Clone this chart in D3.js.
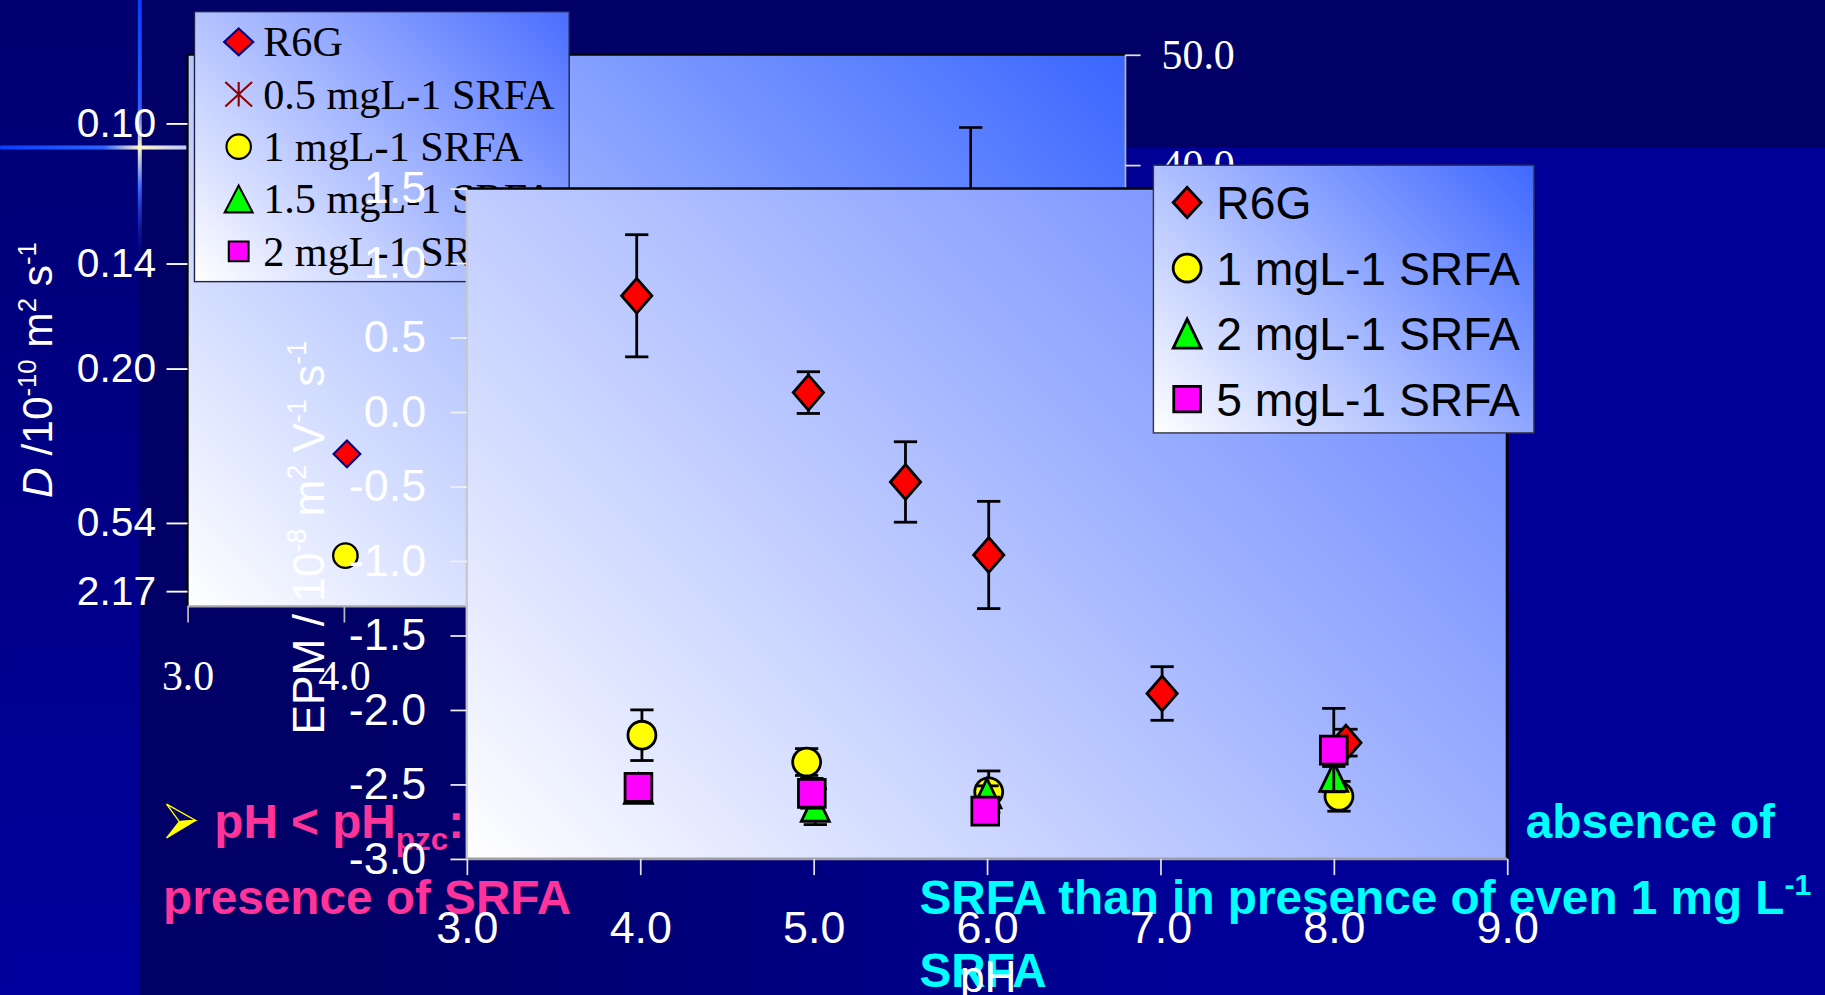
<!DOCTYPE html>
<html>
<head>
<meta charset="utf-8">
<script src="https://cdn.jsdelivr.net/npm/d3@7"></script>
<style>
  html, body { margin: 0; padding: 0; background: #000066; overflow: hidden; }
  svg { display: block; }
</style>
</head>
<body>
<svg id="slide" width="1825" height="995" viewBox="0 0 1568 855"></svg>
<script>
// ---------------- data ----------------
// Front chart: electrophoretic mobility (EPM) against pH
const phTicks = [3, 4, 5, 6, 7, 8, 9];
const epmTicks = [-3, -2.5, -2, -1.5, -1, -0.5, 0, 0.5, 1, 1.5];

const r6gPH  = [3.98, 4.97, 5.53, 6.01, 7.01, 8.07];
const r6gEPM = [0.78, 0.13, -0.47, -0.96, -1.89, -2.22];
const r6gErr = [0.41, 0.14, 0.27, 0.36, 0.18, 0.09];

const srfa1PH  = [4.01, 4.96, 6.01, 8.03];
const srfa1EPM = [-2.17, -2.35, -2.55, -2.58];
const srfa1Err = [0.17, 0.09, 0.14, 0.10];

const srfa2PH  = [3.99, 5.01, 6.00, 8.00];
const srfa2EPM = [-2.53, -2.65, -2.56, -2.45];
const srfa2Err = [0.06, 0.12, 0.05, 0.07];

const srfa5PH  = [3.99, 4.99, 5.99, 8.00];
const srfa5EPM = [-2.52, -2.56, -2.68, -2.27];
const srfa5Err = [0.08, 0.10, 0.07, 0.28];

const frontLegendLabels = ["R6G", "1 mgL-1 SRFA", "2 mgL-1 SRFA", "5 mgL-1 SRFA"];

// Back chart: diffusion coefficient D (reciprocal axis) against pH
const dTicks = [0.10, 0.14, 0.20, 0.54, 2.17];
const dTickLabels = ["0.10", "0.14", "0.20", "0.54", "2.17"];
const rightTicks = [0, 10, 20, 30, 40, 50];

const backR6GPH = [4.02];
const backR6GD  = [0.307];
const backSrfa1PH = [4.01];
const backSrfa1D  = [0.845];

const backRightPH  = [8.01];
const backRightVal = [36.0];
const backRightErr = [7.4];

const backLegendLabels = ["R6G", "0.5 mgL-1 SRFA", "1 mgL-1 SRFA", "1.5 mgL-1 SRFA", "2 mgL-1 SRFA"];

// ---------------- layout ----------------
const SANS = "'Liberation Sans', Arial, Helvetica, sans-serif";
const SERIF = "'Liberation Serif', 'Times New Roman', serif";

const back = { left: 161, right: 967, top: 47, bottom: 521 };
const front = { left: 401, right: 1295, top: 162, bottom: 738 };
const backLegendBox = { x: 167, y: 10, w: 322, h: 232 };
const frontLegendBox = { x: 991, y: 142, w: 327, h: 230 };

const svg = d3.select("#slide");
const defs = svg.append("defs");

// diagonal white -> blue fill, running from bottom-left to top-right corner
function diagGradient(id, x, y, w, h, endColor) {
  const s = (w + h) / 2;
  const g = defs.append("linearGradient").attr("id", id)
    .attr("gradientUnits", "userSpaceOnUse")
    .attr("x1", x).attr("y1", y + h)
    .attr("x2", x + s).attr("y2", y + h - s);
  g.append("stop").attr("offset", 0).attr("stop-color", "#ffffff");
  g.append("stop").attr("offset", 1).attr("stop-color", endColor);
}

function linGradient(id, x1, y1, x2, y2, stops) {
  const g = defs.append("linearGradient").attr("id", id)
    .attr("gradientUnits", "userSpaceOnUse")
    .attr("x1", x1).attr("y1", y1).attr("x2", x2).attr("y2", y2);
  stops.forEach(s => g.append("stop").attr("offset", s[0]).attr("stop-color", s[1]).attr("stop-opacity", s[2] == null ? 1 : s[2]));
}

diagGradient("backPlotFill", back.left, back.top, back.right - back.left, back.bottom - back.top, "#3a66ff");
diagGradient("frontPlotFill", front.left, front.top, front.right - front.left, front.bottom - front.top, "#5f7eff");
diagGradient("backLegendFill", backLegendBox.x, backLegendBox.y, backLegendBox.w, backLegendBox.h, "#4a6eff");
diagGradient("frontLegendFill", frontLegendBox.x, frontLegendBox.y, frontLegendBox.w, frontLegendBox.h, "#3f68ff");

linGradient("stripFill", 0, 0, 0, 855, [[0, "#000070"], [1, "#00009e"]]);
linGradient("lowerFill", 300, 0, 1050, 0, [[0, "#000066"], [1, "#000099"]]);
linGradient("glowH", 0, 0, 162, 0, [[0, "#0a3cff"], [0.55, "#2f62ff"], [0.74, "#fff6c8"], [1, "#b8c6ff"]]);
linGradient("glowV", 0, 0, 0, 230, [[0, "#0a3cff"], [0.4, "#2d5cff"], [0.55, "#fff6c8"], [0.7, "#3a66ff"], [1, "#000099", 0]]);

// ---------------- slide background ----------------
svg.append("rect").attr("width", 1568).attr("height", 855).attr("fill", "#000066");
svg.append("rect").attr("x", 120).attr("y", 127).attr("width", 1448).attr("height", 728).attr("fill", "url(#lowerFill)");
svg.append("rect").attr("x", 0).attr("y", 0).attr("width", 120).attr("height", 855).attr("fill", "url(#stripFill)");
svg.append("rect").attr("x", 0).attr("y", 125).attr("width", 162).attr("height", 3.5).attr("fill", "url(#glowH)");
svg.append("rect").attr("x", 118.3).attr("y", 0).attr("width", 3.4).attr("height", 230).attr("fill", "url(#glowV)");

// ---------------- marker shapes ----------------
function markerPath(kind, hw, hh) {
  const p = d3.path();
  if (kind === "diamond") {
    p.moveTo(0, -hh); p.lineTo(hw, 0); p.lineTo(0, hh); p.lineTo(-hw, 0); p.closePath();
  } else if (kind === "circle") {
    p.moveTo(hw, 0); p.arc(0, 0, hw, 0, 2 * Math.PI); p.closePath();
  } else if (kind === "triangle") {
    p.moveTo(0, -hh); p.lineTo(hw, hh); p.lineTo(-hw, hh); p.closePath();
  } else if (kind === "square") {
    p.rect(-hw, -hh, 2 * hw, 2 * hh);
  } else if (kind === "asterisk") {
    p.moveTo(0, -hh); p.lineTo(0, hh);
    p.moveTo(-hw, -hh); p.lineTo(hw, hh);
    p.moveTo(-hw, hh); p.lineTo(hw, -hh);
  }
  return p.toString();
}

function styleAxisText(g, family, size) {
  g.select(".domain").remove();
  g.selectAll(".tick text").attr("fill", "#ffffff").attr("font-family", family).attr("font-size", size);
}

// ================= BACK CHART =================
const xB = d3.scaleLinear().domain([3, 9]).range([back.left, back.right]);
const yB = d3.scaleLinear().domain([0.15, 11.4]).range([back.bottom, back.top]);   // 1/D
const yB2 = d3.scaleLinear().domain([0, 50]).range([back.bottom, back.top]);

const backG = svg.append("g");
backG.append("rect")
  .attr("x", back.left).attr("y", back.top)
  .attr("width", back.right - back.left).attr("height", back.bottom - back.top)
  .attr("fill", "url(#backPlotFill)");

// error bar drawn against the right-hand axis
const backErrG = backG.append("g").attr("stroke", "#000").attr("stroke-width", 2.2);
backRightPH.forEach((ph, i) => {
  const x = xB(ph);
  const yHi = yB2(backRightVal[i] + backRightErr[i]);
  const yLo = yB2(backRightVal[i] - backRightErr[i]);
  backErrG.append("line").attr("x1", x).attr("x2", x).attr("y1", yHi).attr("y2", yLo);
  backErrG.append("line").attr("x1", x - 10).attr("x2", x + 10).attr("y1", yHi).attr("y2", yHi);
  backErrG.append("line").attr("x1", x - 10).attr("x2", x + 10).attr("y1", yLo).attr("y2", yLo);
  backG.append("path").attr("d", markerPath("diamond", 11, 11))
    .attr("transform", `translate(${x},${yB2(backRightVal[i])})`)
    .attr("fill", "#ff0000").attr("stroke", "#000080").attr("stroke-width", 1.5);
});

backR6GPH.forEach((ph, i) => {
  backG.append("path").attr("d", markerPath("diamond", 11.5, 11.5))
    .attr("transform", `translate(${xB(ph)},${yB(1 / backR6GD[i])})`)
    .attr("fill", "#ff0000").attr("stroke", "#000080").attr("stroke-width", 1.8);
});
backSrfa1PH.forEach((ph, i) => {
  backG.append("path").attr("d", markerPath("circle", 10.5, 10.5))
    .attr("transform", `translate(${xB(ph)},${yB(1 / backSrfa1D[i])})`)
    .attr("fill", "#ffff00").attr("stroke", "#000000").attr("stroke-width", 2);
});

// frame of the back plot
backG.append("line").attr("x1", back.left).attr("x2", back.right).attr("y1", back.top).attr("y2", back.top).attr("stroke", "#000").attr("stroke-width", 2);
backG.append("line").attr("x1", back.left).attr("x2", back.left).attr("y1", back.top).attr("y2", back.bottom).attr("stroke", "#000").attr("stroke-width", 2);
backG.append("line").attr("x1", back.left).attr("x2", back.right).attr("y1", back.bottom).attr("y2", back.bottom).attr("stroke", "#a8a8a8").attr("stroke-width", 2);
backG.append("line").attr("x1", back.right).attr("x2", back.right).attr("y1", back.top).attr("y2", back.bottom).attr("stroke", "#b0b0b0").attr("stroke-width", 1.5);

const backLeftAxis = backG.append("g").attr("transform", `translate(${back.left},0)`)
  .call(d3.axisLeft(yB).tickValues(dTicks.map(d => 1 / d))
    .tickFormat((d, i) => dTickLabels[i]).tickSize(18).tickPadding(9));
styleAxisText(backLeftAxis, SANS, 35);
backLeftAxis.selectAll(".tick line").attr("stroke", "#ffffff").attr("stroke-width", 1.6);

const backBottomAxis = backG.append("g").attr("transform", `translate(0,${back.bottom})`)
  .call(d3.axisBottom(xB).tickValues(phTicks).tickFormat(d => d.toFixed(1)).tickSize(14).tickPadding(32));
styleAxisText(backBottomAxis, SERIF, 36);
backBottomAxis.selectAll(".tick line").attr("stroke", "#b8b8b8").attr("stroke-width", 1.5);

const backRightAxis = backG.append("g").attr("transform", `translate(${back.right},0)`)
  .call(d3.axisRight(yB2).tickValues(rightTicks).tickFormat(d => d.toFixed(1)).tickSize(13).tickPadding(18));
styleAxisText(backRightAxis, SERIF, 36);
backRightAxis.selectAll(".tick line").attr("stroke", "#e0e0e0").attr("stroke-width", 1.5);

// D axis title
const dTitle = backG.append("text")
  .attr("transform", "translate(45,318) rotate(-90)")
  .attr("text-anchor", "middle").attr("fill", "#ffffff")
  .attr("font-family", SANS).attr("font-size", 36.5);
dTitle.append("tspan").attr("font-style", "italic").text("D");
dTitle.append("tspan").text(" /10");
dTitle.append("tspan").attr("font-size", 22).attr("dy", -14).text("-10");
dTitle.append("tspan").attr("dy", 14).text(" m");
dTitle.append("tspan").attr("font-size", 22).attr("dy", -14).text("2");
dTitle.append("tspan").attr("dy", 14).text(" s");
dTitle.append("tspan").attr("font-size", 22).attr("dy", -14).text("-1");

// back legend
const backLegendSymbols = [
  { kind: "diamond", fill: "#ff0000", stroke: "#000080", hw: 12.5, hh: 11.5 },
  { kind: "asterisk", fill: "none", stroke: "#8b0000", hw: 11.5, hh: 10.5 },
  { kind: "circle", fill: "#ffff00", stroke: "#000000", hw: 10.5, hh: 10.5 },
  { kind: "triangle", fill: "#00ff00", stroke: "#000000", hw: 12, hh: 11.5 },
  { kind: "square", fill: "#ff00ff", stroke: "#000000", hw: 8.5, hh: 8.5 }
];
const bl = svg.append("g");
bl.append("rect").attr("x", backLegendBox.x).attr("y", backLegendBox.y)
  .attr("width", backLegendBox.w).attr("height", backLegendBox.h)
  .attr("fill", "url(#backLegendFill)").attr("stroke", "#222244").attr("stroke-width", 1.2);
const blRow = d3.scalePoint().domain(backLegendLabels).range([36, 216]);
backLegendLabels.forEach((lab, i) => {
  const s = backLegendSymbols[i];
  bl.append("path").attr("d", markerPath(s.kind, s.hw, s.hh))
    .attr("transform", `translate(205,${blRow(lab)})`)
    .attr("fill", s.fill).attr("stroke", s.stroke).attr("stroke-width", s.kind === "asterisk" ? 1.8 : 1.8);
  bl.append("text").attr("x", 226).attr("y", blRow(lab)).attr("dy", "0.34em")
    .attr("font-family", SERIF).attr("font-size", 36.3).attr("fill", "#000")
    .text(lab);
});

// ================= SLIDE TEXT (behind front chart) =================
const txt = svg.append("g").attr("font-family", SANS).attr("font-weight", "bold").attr("font-size", 41);

// yellow arrowhead bullet
const bullet = txt.append("g").attr("transform", "translate(143,691)");
bullet.append("path").attr("d", "M0,0 L25,14 L11,15 Z").attr("fill", "#000066").attr("stroke", "#ffff00").attr("stroke-width", 1.2);
bullet.append("path").attr("d", "M11,15 L25,14 L0,29 Z").attr("fill", "#ffff00").attr("stroke", "#ffff00").attr("stroke-width", 1);

const pink1 = txt.append("text").attr("x", 184).attr("y", 720).attr("fill", "#ff3399");
pink1.append("tspan").text("pH < pH");
pink1.append("tspan").attr("font-size", 27).attr("dy", 10).text("pzc");
pink1.append("tspan").attr("dy", -10).text(":");
txt.append("text").attr("x", 140).attr("y", 785).attr("fill", "#ff3399").text("presence of SRFA");

txt.append("text").attr("x", 1311).attr("y", 720).attr("fill", "#00ffff").text("absence of");
const cyan2 = txt.append("text").attr("x", 790).attr("y", 785).attr("fill", "#00ffff");
cyan2.append("tspan").text("SRFA than in presence of even 1 mg L");
cyan2.append("tspan").attr("font-size", 26).attr("dy", -16).text("-1");
txt.append("text").attr("x", 790).attr("y", 848).attr("fill", "#00ffff").text("SRFA");

// ================= FRONT CHART =================
const xF = d3.scaleLinear().domain([3, 9]).range([front.left, front.right]);
const yF = d3.scaleLinear().domain([-3, 1.5]).range([front.bottom, front.top]);

const frontG = svg.append("g");
frontG.append("rect")
  .attr("x", front.left).attr("y", front.top)
  .attr("width", front.right - front.left).attr("height", front.bottom - front.top)
  .attr("fill", "url(#frontPlotFill)");

const frontSeries = [
  { label: frontLegendLabels[0], ph: r6gPH, v: r6gEPM, e: r6gErr, kind: "diamond", fill: "#ff0000", hw: 13, hh: 15 },
  { label: frontLegendLabels[1], ph: srfa1PH, v: srfa1EPM, e: srfa1Err, kind: "circle", fill: "#ffff00", hw: 12, hh: 12 },
  { label: frontLegendLabels[2], ph: srfa2PH, v: srfa2EPM, e: srfa2Err, kind: "triangle", fill: "#00ff00", hw: 12, hh: 12.5 },
  { label: frontLegendLabels[3], ph: srfa5PH, v: srfa5EPM, e: srfa5Err, kind: "square", fill: "#ff00ff", hw: 11.5, hh: 12 }
];

frontSeries.forEach(s => {
  const g = frontG.append("g");
  const pts = s.ph.map((ph, i) => ({ ph, v: s.v[i], e: s.e[i] }));
  const eb = g.append("g").attr("stroke", "#000").attr("stroke-width", 2.4);
  pts.forEach(p => {
    const x = xF(p.ph), yHi = yF(p.v + p.e), yLo = yF(p.v - p.e);
    eb.append("line").attr("x1", x).attr("x2", x).attr("y1", yHi).attr("y2", yLo);
    eb.append("line").attr("x1", x - 10).attr("x2", x + 10).attr("y1", yHi).attr("y2", yHi);
    eb.append("line").attr("x1", x - 10).attr("x2", x + 10).attr("y1", yLo).attr("y2", yLo);
  });
  g.selectAll("path.mark").data(pts).join("path").attr("class", "mark")
    .attr("d", markerPath(s.kind, s.hw, s.hh))
    .attr("transform", d => `translate(${xF(d.ph)},${yF(d.v)})`)
    .attr("fill", s.fill).attr("stroke", "#000").attr("stroke-width", 2.4);
});

// frame of the front plot
frontG.append("line").attr("x1", front.left).attr("x2", front.right).attr("y1", front.top).attr("y2", front.top).attr("stroke", "#000").attr("stroke-width", 2.2);
frontG.append("line").attr("x1", front.right).attr("x2", front.right).attr("y1", front.top).attr("y2", front.bottom).attr("stroke", "#000").attr("stroke-width", 2.5);
frontG.append("line").attr("x1", front.left).attr("x2", front.left).attr("y1", front.top).attr("y2", front.bottom).attr("stroke", "#c8c8c8").attr("stroke-width", 2);
frontG.append("line").attr("x1", front.left).attr("x2", front.right).attr("y1", front.bottom).attr("y2", front.bottom).attr("stroke", "#a0a0a0").attr("stroke-width", 2.5);

const frontLeftAxis = frontG.append("g").attr("transform", `translate(${front.left},0)`)
  .call(d3.axisLeft(yF).tickValues(epmTicks).tickFormat(d => d.toFixed(1)).tickSize(14).tickPadding(21));
styleAxisText(frontLeftAxis, SANS, 38.5);
frontLeftAxis.selectAll(".tick line").attr("stroke", "#f0f0f0").attr("stroke-width", 1.5);

const frontBottomAxis = frontG.append("g").attr("transform", `translate(0,${front.bottom})`)
  .call(d3.axisBottom(xF).tickValues(phTicks).tickFormat(d => d.toFixed(1)).tickSize(14).tickPadding(31));
styleAxisText(frontBottomAxis, SANS, 38.5);
frontBottomAxis.selectAll(".tick line").attr("stroke", "#e0e0e0").attr("stroke-width", 1.5);

// axis titles
frontG.append("text").attr("x", (front.left + front.right) / 2 + 1).attr("y", 852)
  .attr("text-anchor", "middle").attr("fill", "#ffffff")
  .attr("font-family", SANS).attr("font-size", 38).text("pH");

const epmTitle = frontG.append("text")
  .attr("transform", "translate(278,462) rotate(-90)")
  .attr("text-anchor", "middle").attr("fill", "#ffffff")
  .attr("font-family", SANS).attr("font-size", 38);
epmTitle.append("tspan").text("EPM / 10");
epmTitle.append("tspan").attr("font-size", 23).attr("dy", -15).text("-8");
epmTitle.append("tspan").attr("dy", 15).text(" m");
epmTitle.append("tspan").attr("font-size", 23).attr("dy", -15).text("2");
epmTitle.append("tspan").attr("dy", 15).text(" V");
epmTitle.append("tspan").attr("font-size", 23).attr("dy", -15).text("-1");
epmTitle.append("tspan").attr("dy", 15).text(" s");
epmTitle.append("tspan").attr("font-size", 23).attr("dy", -15).text("-1");

// front legend
const fl = svg.append("g");
fl.append("rect").attr("x", frontLegendBox.x).attr("y", frontLegendBox.y)
  .attr("width", frontLegendBox.w).attr("height", frontLegendBox.h)
  .attr("fill", "url(#frontLegendFill)").attr("stroke", "#333344").attr("stroke-width", 1.2);
const flRow = d3.scalePoint().domain(frontLegendLabels).range([174, 343]);
frontSeries.forEach(s => {
  const sym = { diamond: [12, 13], circle: [12, 12.5], triangle: [12, 12.5], square: [11.5, 11] }[s.kind];
  fl.append("path").attr("d", markerPath(s.kind, sym[0], sym[1]))
    .attr("transform", `translate(1020,${flRow(s.label)})`)
    .attr("fill", s.fill).attr("stroke", "#000").attr("stroke-width", 2.4);
  fl.append("text").attr("x", 1045).attr("y", flRow(s.label)).attr("dy", "0.36em")
    .attr("font-family", SANS).attr("font-size", 39.8).attr("fill", "#000")
    .text(s.label);
});
</script>
</body>
</html>
